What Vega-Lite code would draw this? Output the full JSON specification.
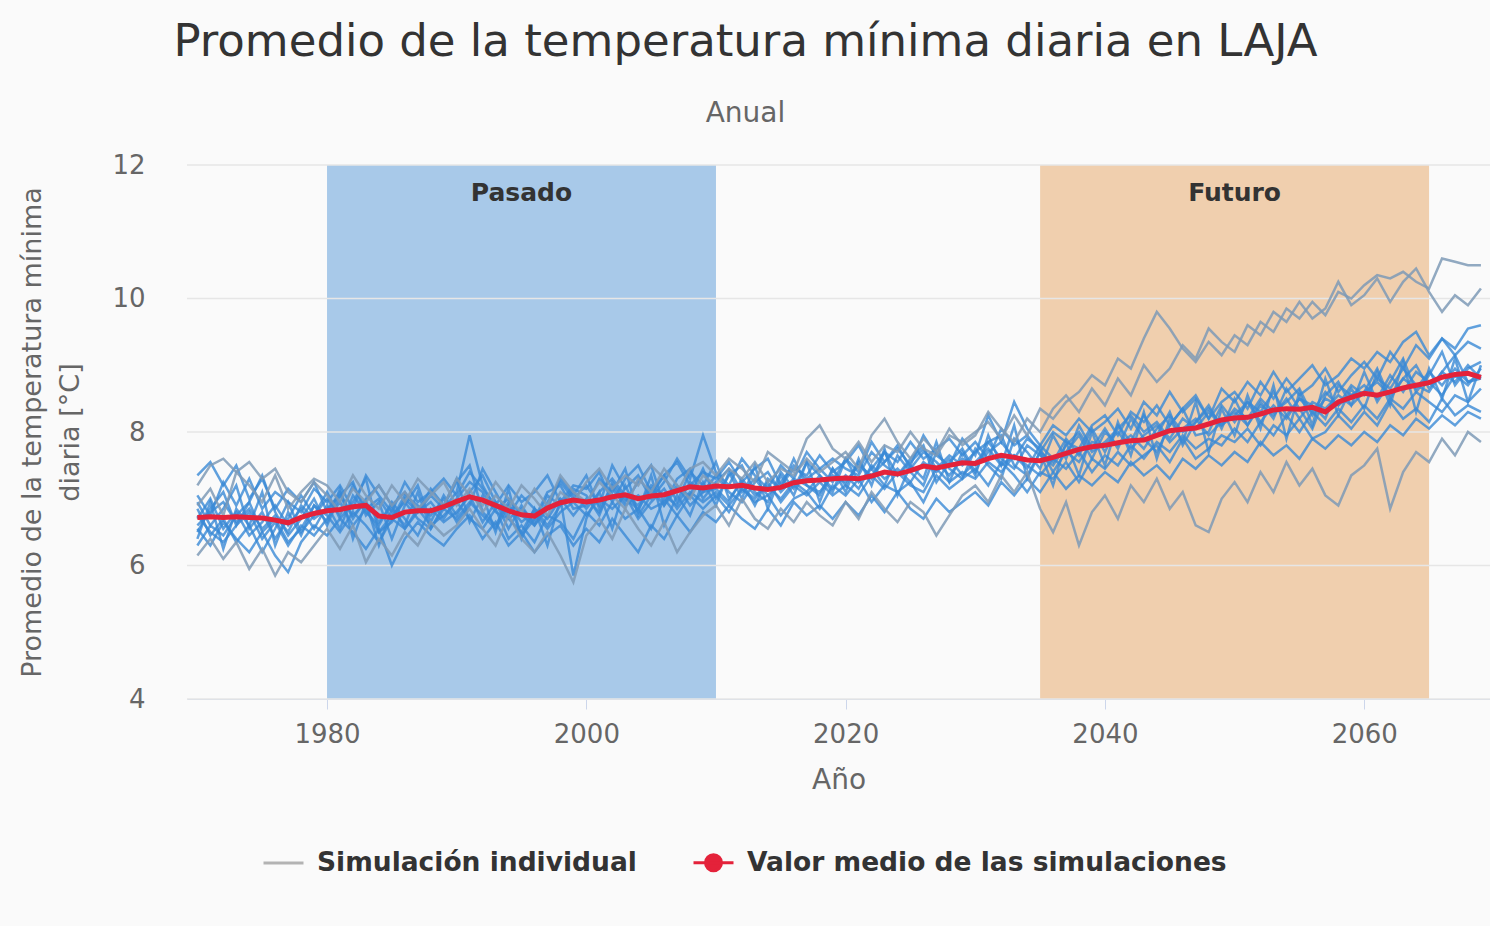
{
  "$schema": "https://vega.github.io/schema/vega-lite/v6.json",
  "width": 1303,
  "height": 534,
  "autosize": {"type": "none"},
  "padding": {"left": 187, "top": 165, "right": 0, "bottom": 227},
  "background": "#fafafa",
  "config": {"view": {"stroke": null}, "font": "DejaVu Sans"},
  "title": {
    "text": "Promedio de la temperatura mínima diaria en LAJA",
    "subtitle": "Anual",
    "font": "DejaVu Sans",
    "subtitleFont": "DejaVu Sans",
    "fontSize": 45,
    "fontWeight": "normal",
    "color": "#333333",
    "subtitleFontSize": 28,
    "subtitleColor": "#666666",
    "anchor": "middle",
    "dx": -93,
    "offset": 24,
    "subtitlePadding": 35
  },
  "datasets": {
    "bands": [
      {"start": 1980, "end": 2010, "mid": 1995, "label": "Pasado"},
      {"start": 2035, "end": 2065, "mid": 2050, "label": "Futuro"}
    ],
    "grid": [{"v": 4}, {"v": 6}, {"v": 8}, {"v": 10}, {"v": 12}],
    "sims": [
      {"t":1970,"avg":6.72,"a":6.95,"b":6.50,"c":6.30,"d":7.05,"e":6.70,"f":6.40,"g":6.85,"h":7.35,"i":6.55,"j":7.20,"k":6.15,"l":6.90,"m":6.60,"n":6.75},
      {"t":1971,"avg":6.73,"a":6.60,"b":6.85,"c":6.60,"d":6.75,"e":7.00,"f":6.95,"g":6.45,"h":7.55,"i":6.30,"j":7.50,"k":6.40,"l":7.15,"m":6.80,"n":6.50},
      {"t":1972,"avg":6.72,"a":6.85,"b":7.10,"c":6.45,"d":7.25,"e":6.55,"f":6.25,"g":6.70,"h":7.20,"i":6.65,"j":7.60,"k":6.10,"l":6.75,"m":6.95,"n":6.35},
      {"t":1973,"avg":6.73,"a":7.20,"b":6.60,"c":6.75,"d":6.90,"e":6.80,"f":6.85,"g":6.35,"h":7.50,"i":6.40,"j":7.40,"k":6.35,"l":7.40,"m":6.65,"n":6.60},
      {"t":1974,"avg":6.72,"a":6.55,"b":6.95,"c":6.95,"d":7.30,"e":6.45,"f":6.60,"g":6.60,"h":7.00,"i":6.20,"j":7.55,"k":5.95,"l":7.20,"m":6.85,"n":6.80},
      {"t":1975,"avg":6.71,"a":6.80,"b":7.35,"c":6.50,"d":6.85,"e":6.65,"f":7.10,"g":6.20,"h":7.30,"i":6.50,"j":7.30,"k":6.25,"l":6.95,"m":6.55,"n":6.40},
      {"t":1976,"avg":6.68,"a":6.40,"b":6.80,"c":6.70,"d":7.10,"e":6.90,"f":6.30,"g":6.55,"h":6.85,"i":6.15,"j":7.45,"k":5.85,"l":7.35,"m":6.75,"n":6.65},
      {"t":1977,"avg":6.64,"a":6.70,"b":6.45,"c":6.35,"d":6.95,"e":6.60,"f":6.80,"g":6.95,"h":7.15,"i":5.90,"j":7.10,"k":6.20,"l":6.85,"m":6.50,"n":6.30},
      {"t":1978,"avg":6.72,"a":7.05,"b":6.70,"c":6.55,"d":6.80,"e":6.85,"f":6.45,"g":6.50,"h":6.95,"i":6.35,"j":6.95,"k":6.05,"l":7.10,"m":6.90,"n":6.60},
      {"t":1979,"avg":6.78,"a":6.75,"b":7.00,"c":6.90,"d":7.15,"e":6.55,"f":6.90,"g":6.75,"h":7.25,"i":6.60,"j":7.25,"k":6.30,"l":7.30,"m":6.70,"n":6.45},
      {"t":1980,"avg":6.82,"a":7.10,"b":6.60,"c":6.75,"d":6.95,"e":6.90,"f":6.65,"g":7.00,"h":6.80,"i":6.45,"j":7.05,"k":6.55,"l":7.20,"m":6.85,"n":6.70},
      {"t":1981,"avg":6.84,"a":6.70,"b":7.05,"c":6.50,"d":7.20,"e":6.55,"f":7.15,"g":6.75,"h":7.10,"i":6.70,"j":6.80,"k":6.25,"l":6.95,"m":7.05,"n":6.95},
      {"t":1982,"avg":6.88,"a":6.95,"b":7.25,"c":6.80,"d":6.85,"e":7.05,"f":6.40,"g":7.20,"h":6.70,"i":6.50,"j":7.15,"k":6.60,"l":7.35,"m":6.75,"n":6.60},
      {"t":1983,"avg":6.90,"a":7.30,"b":6.75,"c":6.60,"d":7.35,"e":6.80,"f":6.95,"g":6.85,"h":7.00,"i":6.25,"j":6.95,"k":6.05,"l":7.05,"m":6.95,"n":6.85},
      {"t":1984,"avg":6.74,"a":6.50,"b":6.95,"c":6.35,"d":7.05,"e":6.60,"f":6.30,"g":7.00,"h":7.20,"i":6.55,"j":7.20,"k":6.40,"l":6.85,"m":6.65,"n":6.50},
      {"t":1985,"avg":6.72,"a":6.65,"b":6.40,"c":6.70,"d":6.80,"e":6.95,"f":6.85,"g":6.70,"h":6.90,"i":6.00,"j":6.90,"k":6.15,"l":7.20,"m":6.90,"n":6.75},
      {"t":1986,"avg":6.80,"a":7.00,"b":6.90,"c":6.55,"d":7.25,"e":6.70,"f":6.60,"g":7.05,"h":6.55,"i":6.40,"j":7.10,"k":6.50,"l":6.95,"m":7.10,"n":6.95},
      {"t":1987,"avg":6.82,"a":6.80,"b":7.20,"c":6.85,"d":6.95,"e":6.45,"f":7.10,"g":6.90,"h":6.80,"i":6.65,"j":6.85,"k":6.30,"l":7.30,"m":6.80,"n":6.70},
      {"t":1988,"avg":6.82,"a":7.15,"b":6.65,"c":6.60,"d":7.10,"e":6.85,"f":6.55,"g":6.75,"h":7.05,"i":6.45,"j":7.05,"k":6.65,"l":7.10,"m":6.95,"n":6.55},
      {"t":1989,"avg":6.88,"a":6.90,"b":7.05,"c":6.75,"d":7.30,"e":6.65,"f":6.90,"g":7.00,"h":6.85,"i":6.30,"j":7.25,"k":6.45,"l":6.90,"m":6.70,"n":6.85},
      {"t":1990,"avg":6.96,"a":7.25,"b":6.75,"c":6.95,"d":7.05,"e":6.80,"f":7.30,"g":6.65,"h":7.10,"i":6.55,"j":6.90,"k":6.60,"l":7.30,"m":7.00,"n":6.70},
      {"t":1991,"avg":7.03,"a":7.50,"b":7.10,"c":6.70,"d":7.40,"e":7.05,"f":6.65,"g":6.90,"h":7.95,"i":6.75,"j":7.15,"k":6.85,"l":7.05,"m":7.25,"n":6.95},
      {"t":1992,"avg":6.98,"a":6.80,"b":7.35,"c":6.55,"d":7.15,"e":6.65,"f":7.05,"g":7.45,"h":7.20,"i":6.40,"j":6.80,"k":6.55,"l":6.90,"m":7.10,"n":6.75},
      {"t":1993,"avg":6.90,"a":6.60,"b":6.95,"c":6.85,"d":6.90,"e":6.95,"f":6.50,"g":7.10,"h":6.85,"i":6.65,"j":7.05,"k":6.30,"l":7.25,"m":6.80,"n":6.55},
      {"t":1994,"avg":6.82,"a":6.95,"b":6.55,"c":6.40,"d":7.20,"e":6.70,"f":7.15,"g":6.75,"h":7.00,"i":6.30,"j":6.85,"k":6.75,"l":7.00,"m":6.70,"n":6.90},
      {"t":1995,"avg":6.76,"a":6.45,"b":6.90,"c":6.60,"d":6.95,"e":6.50,"f":6.40,"g":7.05,"h":6.75,"i":6.50,"j":7.20,"k":6.40,"l":6.80,"m":6.85,"n":6.65},
      {"t":1996,"avg":6.74,"a":6.70,"b":6.60,"c":6.35,"d":7.10,"e":6.85,"f":6.85,"g":6.85,"h":6.60,"i":6.20,"j":7.00,"k":6.20,"l":7.15,"m":6.65,"n":6.80},
      {"t":1997,"avg":6.86,"a":7.10,"b":6.85,"c":6.75,"d":7.35,"e":6.70,"f":6.30,"g":6.60,"h":6.95,"i":6.45,"j":6.75,"k":6.50,"l":6.90,"m":7.05,"n":6.55},
      {"t":1998,"avg":6.94,"a":7.20,"b":7.30,"c":6.65,"d":6.95,"e":7.00,"f":7.00,"g":6.90,"h":7.25,"i":6.60,"j":7.10,"k":6.15,"l":7.35,"m":6.90,"n":6.80},
      {"t":1999,"avg":6.98,"a":6.85,"b":7.05,"c":6.40,"d":7.20,"e":6.75,"f":5.85,"g":7.15,"h":7.00,"i":6.30,"j":6.95,"k":5.75,"l":7.10,"m":7.10,"n":6.95},
      {"t":2000,"avg":6.95,"a":6.90,"b":7.35,"c":6.80,"d":7.15,"e":7.00,"f":6.70,"g":7.05,"h":7.20,"i":6.55,"j":7.25,"k":6.45,"l":6.95,"m":6.85,"n":6.75},
      {"t":2001,"avg":6.98,"a":7.30,"b":6.85,"c":6.60,"d":7.40,"e":6.80,"f":7.10,"g":6.75,"h":6.90,"i":6.35,"j":7.45,"k":6.70,"l":7.25,"m":7.10,"n":7.00},
      {"t":2002,"avg":7.03,"a":7.10,"b":7.20,"c":6.95,"d":6.95,"e":7.15,"f":6.55,"g":7.25,"h":7.50,"i":6.70,"j":7.15,"k":6.40,"l":7.05,"m":7.30,"n":6.85},
      {"t":2003,"avg":7.06,"a":7.45,"b":6.95,"c":6.70,"d":7.30,"e":6.90,"f":7.20,"g":7.00,"h":7.15,"i":6.45,"j":7.35,"k":6.85,"l":6.85,"m":7.05,"n":7.05},
      {"t":2004,"avg":7.00,"a":6.75,"b":7.25,"c":6.85,"d":7.50,"e":7.05,"f":6.80,"g":6.85,"h":7.35,"i":6.20,"j":7.20,"k":6.55,"l":7.30,"m":6.90,"n":6.70},
      {"t":2005,"avg":7.04,"a":7.05,"b":7.50,"c":6.55,"d":7.10,"e":6.85,"f":7.35,"g":7.15,"h":7.00,"i":6.60,"j":7.50,"k":6.30,"l":7.10,"m":7.20,"n":6.95},
      {"t":2006,"avg":7.06,"a":7.35,"b":6.90,"c":7.00,"d":7.35,"e":6.95,"f":6.60,"g":6.90,"h":7.25,"i":6.40,"j":7.30,"k":6.65,"l":7.45,"m":7.05,"n":7.15},
      {"t":2007,"avg":7.12,"a":6.95,"b":7.15,"c":6.75,"d":7.55,"e":7.20,"f":7.05,"g":7.30,"h":7.60,"i":6.75,"j":7.10,"k":6.20,"l":7.20,"m":6.90,"n":6.85},
      {"t":2008,"avg":7.18,"a":7.40,"b":7.05,"c":7.05,"d":7.20,"e":6.90,"f":6.75,"g":7.45,"h":7.30,"i":6.50,"j":7.45,"k":6.50,"l":7.00,"m":7.25,"n":7.10},
      {"t":2009,"avg":7.16,"a":7.20,"b":7.45,"c":6.85,"d":7.40,"e":7.10,"f":7.25,"g":7.00,"h":7.95,"i":6.80,"j":7.55,"k":6.75,"l":7.35,"m":7.10,"n":6.95},
      {"t":2010,"avg":7.19,"a":7.55,"b":7.00,"c":7.05,"d":7.30,"e":7.15,"f":6.90,"g":7.25,"h":7.40,"i":6.65,"j":7.35,"k":6.90,"l":7.20,"m":7.35,"n":7.10},
      {"t":2011,"avg":7.18,"a":7.00,"b":7.35,"c":6.80,"d":7.55,"e":6.95,"f":7.40,"g":7.45,"h":7.20,"i":6.90,"j":7.60,"k":6.60,"l":7.45,"m":7.10,"n":6.90},
      {"t":2012,"avg":7.20,"a":7.25,"b":7.50,"c":7.15,"d":7.25,"e":7.30,"f":7.00,"g":7.10,"h":7.60,"i":6.70,"j":7.45,"k":7.00,"l":7.30,"m":6.95,"n":7.15},
      {"t":2013,"avg":7.16,"a":6.90,"b":7.10,"c":6.95,"d":7.45,"e":7.05,"f":7.50,"g":7.30,"h":7.35,"i":6.55,"j":7.25,"k":6.70,"l":7.55,"m":7.25,"n":7.00},
      {"t":2014,"avg":7.14,"a":7.30,"b":6.95,"c":7.05,"d":7.60,"e":7.20,"f":6.85,"g":7.05,"h":7.15,"i":6.85,"j":7.70,"k":6.55,"l":7.25,"m":7.40,"n":7.25},
      {"t":2015,"avg":7.17,"a":7.15,"b":7.40,"c":6.75,"d":7.20,"e":7.00,"f":7.35,"g":7.25,"h":7.50,"i":6.60,"j":7.55,"k":6.85,"l":7.45,"m":7.10,"n":6.95},
      {"t":2016,"avg":7.24,"a":7.60,"b":7.15,"c":7.00,"d":7.45,"e":7.25,"f":7.05,"g":7.50,"h":7.30,"i":6.95,"j":7.40,"k":6.65,"l":7.35,"m":7.30,"n":7.20},
      {"t":2017,"avg":7.27,"a":7.20,"b":7.55,"c":7.10,"d":7.35,"e":7.10,"f":7.55,"g":7.30,"h":7.70,"i":6.75,"j":7.90,"k":6.95,"l":7.60,"m":7.20,"n":7.05},
      {"t":2018,"avg":7.28,"a":7.05,"b":7.35,"c":6.85,"d":7.65,"e":7.35,"f":6.95,"g":7.45,"h":7.45,"i":6.90,"j":8.10,"k":6.75,"l":7.40,"m":7.10,"n":7.25},
      {"t":2019,"avg":7.30,"a":7.45,"b":7.10,"c":7.20,"d":7.40,"e":7.15,"f":7.45,"g":7.60,"h":7.25,"i":6.70,"j":7.75,"k":6.60,"l":7.55,"m":7.35,"n":7.05},
      {"t":2020,"avg":7.31,"a":7.20,"b":7.60,"c":7.05,"d":7.55,"e":7.35,"f":7.10,"g":7.45,"h":7.60,"i":6.95,"j":7.60,"k":6.95,"l":7.70,"m":7.25,"n":7.20},
      {"t":2021,"avg":7.30,"a":7.55,"b":7.25,"c":7.30,"d":7.80,"e":7.15,"f":7.60,"g":7.35,"h":7.40,"i":6.75,"j":7.85,"k":6.70,"l":7.45,"m":7.50,"n":7.05},
      {"t":2022,"avg":7.34,"a":7.30,"b":7.45,"c":6.95,"d":7.45,"e":7.50,"f":7.20,"g":7.70,"h":7.85,"i":7.05,"j":7.55,"k":7.10,"l":7.95,"m":7.35,"n":7.35},
      {"t":2023,"avg":7.40,"a":7.70,"b":7.20,"c":7.20,"d":7.70,"e":7.30,"f":7.75,"g":7.50,"h":7.55,"i":6.80,"j":7.80,"k":6.85,"l":8.20,"m":7.55,"n":7.15},
      {"t":2024,"avg":7.37,"a":7.35,"b":7.65,"c":7.10,"d":7.55,"e":7.45,"f":7.05,"g":7.35,"h":7.75,"i":7.10,"j":7.70,"k":6.65,"l":7.85,"m":7.80,"n":7.40},
      {"t":2025,"avg":7.42,"a":7.60,"b":7.40,"c":7.25,"d":7.85,"e":7.25,"f":7.50,"g":7.55,"h":7.50,"i":6.85,"j":8.00,"k":6.95,"l":7.60,"m":7.45,"n":7.20},
      {"t":2026,"avg":7.49,"a":7.80,"b":7.20,"c":6.95,"d":7.60,"e":7.55,"f":7.30,"g":7.75,"h":7.95,"i":6.70,"j":7.75,"k":6.80,"l":7.90,"m":7.70,"n":7.10},
      {"t":2027,"avg":7.46,"a":7.25,"b":7.70,"c":7.35,"d":7.75,"e":7.40,"f":7.85,"g":7.45,"h":7.65,"i":7.00,"j":7.65,"k":6.45,"l":7.70,"m":7.55,"n":7.45},
      {"t":2028,"avg":7.50,"a":7.55,"b":7.45,"c":7.15,"d":7.90,"e":7.60,"f":7.25,"g":7.65,"h":7.50,"i":6.80,"j":7.95,"k":6.75,"l":8.05,"m":7.35,"n":7.25},
      {"t":2029,"avg":7.54,"a":7.75,"b":7.30,"c":7.30,"d":7.65,"e":7.35,"f":7.70,"g":7.50,"h":7.90,"i":6.95,"j":7.85,"k":7.05,"l":7.80,"m":7.60,"n":7.40},
      {"t":2030,"avg":7.53,"a":7.40,"b":7.75,"c":7.45,"d":7.85,"e":7.55,"f":7.35,"g":7.70,"h":7.65,"i":7.10,"j":8.00,"k":7.20,"l":7.95,"m":7.50,"n":7.30},
      {"t":2031,"avg":7.60,"a":7.85,"b":7.50,"c":7.20,"d":7.60,"e":7.75,"f":7.95,"g":7.85,"h":8.25,"i":6.90,"j":8.15,"k":6.95,"l":8.30,"m":7.70,"n":7.55},
      {"t":2032,"avg":7.65,"a":7.95,"b":7.30,"c":7.55,"d":8.05,"e":7.50,"f":7.50,"g":7.60,"h":7.85,"i":7.25,"j":7.90,"k":7.35,"l":8.05,"m":7.85,"n":7.40},
      {"t":2033,"avg":7.62,"a":7.50,"b":7.90,"c":7.35,"d":7.80,"e":7.65,"f":8.10,"g":7.45,"h":8.45,"i":7.05,"j":8.25,"k":7.10,"l":7.85,"m":7.60,"n":7.65},
      {"t":2034,"avg":7.58,"a":7.35,"b":7.70,"c":7.10,"d":7.95,"e":7.45,"f":7.30,"g":7.80,"h":8.05,"i":7.30,"j":7.95,"k":7.40,"l":8.20,"m":7.90,"n":7.50},
      {"t":2035,"avg":7.57,"a":7.70,"b":7.45,"c":7.40,"d":7.70,"e":7.80,"f":7.70,"g":7.65,"h":7.80,"i":7.10,"j":8.35,"k":6.85,"l":8.00,"m":7.75,"n":7.35},
      {"t":2036,"avg":7.62,"a":7.55,"b":7.95,"c":7.30,"d":8.00,"e":7.60,"f":7.20,"g":7.50,"h":8.10,"i":7.40,"j":8.20,"k":6.50,"l":8.35,"m":7.40,"n":7.60},
      {"t":2037,"avg":7.68,"a":7.90,"b":7.60,"c":7.55,"d":7.85,"e":7.70,"f":7.85,"g":7.80,"h":7.95,"i":7.15,"j":8.45,"k":6.95,"l":8.55,"m":7.70,"n":7.45},
      {"t":2038,"avg":7.74,"a":7.65,"b":8.10,"c":7.25,"d":7.75,"e":7.55,"f":7.35,"g":8.00,"h":8.20,"i":7.35,"j":8.60,"k":6.30,"l":8.30,"m":7.95,"n":7.70},
      {"t":2039,"avg":7.78,"a":8.05,"b":7.75,"c":7.60,"d":8.10,"e":7.85,"f":8.00,"g":7.70,"h":8.00,"i":7.20,"j":8.85,"k":6.80,"l":8.65,"m":7.60,"n":7.40},
      {"t":2040,"avg":7.80,"a":7.70,"b":8.05,"c":7.45,"d":8.25,"e":7.80,"f":7.50,"g":7.85,"h":8.15,"i":7.40,"j":8.70,"k":7.05,"l":8.40,"m":8.00,"n":7.65},
      {"t":2041,"avg":7.84,"a":8.10,"b":7.75,"c":7.70,"d":7.95,"e":8.00,"f":8.15,"g":8.05,"h":8.35,"i":7.25,"j":9.10,"k":6.70,"l":8.80,"m":7.80,"n":7.50},
      {"t":2042,"avg":7.87,"a":7.85,"b":8.20,"c":7.50,"d":8.30,"e":7.75,"f":7.65,"g":8.25,"h":8.05,"i":7.55,"j":8.95,"k":7.20,"l":8.55,"m":7.95,"n":7.80},
      {"t":2043,"avg":7.88,"a":8.25,"b":7.90,"c":7.65,"d":8.15,"e":7.95,"f":8.30,"g":8.00,"h":8.45,"i":7.35,"j":9.40,"k":6.95,"l":9.00,"m":7.75,"n":7.60},
      {"t":2044,"avg":7.95,"a":7.95,"b":7.70,"c":7.80,"d":8.40,"e":8.10,"f":7.60,"g":8.15,"h":8.25,"i":7.50,"j":9.80,"k":7.30,"l":8.75,"m":8.05,"n":7.85},
      {"t":2045,"avg":8.02,"a":8.30,"b":8.10,"c":7.55,"d":8.10,"e":7.85,"f":8.20,"g":7.90,"h":8.60,"i":7.30,"j":9.55,"k":6.85,"l":8.95,"m":8.25,"n":7.70},
      {"t":2046,"avg":8.04,"a":7.80,"b":8.35,"c":7.90,"d":8.35,"e":8.05,"f":7.85,"g":8.20,"h":8.30,"i":7.60,"j":9.25,"k":7.10,"l":9.30,"m":8.00,"n":7.95},
      {"t":2047,"avg":8.06,"a":8.15,"b":7.95,"c":7.60,"d":8.55,"e":8.20,"f":8.45,"g":8.05,"h":8.50,"i":7.45,"j":9.05,"k":6.60,"l":9.10,"m":8.15,"n":7.75},
      {"t":2048,"avg":8.12,"a":8.40,"b":8.00,"c":7.75,"d":8.20,"e":7.95,"f":7.70,"g":8.30,"h":8.20,"i":7.65,"j":9.35,"k":6.50,"l":9.55,"m":8.35,"n":7.90},
      {"t":2049,"avg":8.18,"a":8.05,"b":8.40,"c":7.95,"d":8.45,"e":8.15,"f":8.35,"g":8.10,"h":8.65,"i":7.50,"j":9.15,"k":7.00,"l":9.35,"m":8.10,"n":7.80},
      {"t":2050,"avg":8.21,"a":8.50,"b":8.15,"c":7.85,"d":8.60,"e":8.30,"f":7.95,"g":8.35,"h":8.45,"i":7.70,"j":9.45,"k":7.25,"l":9.20,"m":8.25,"n":8.05},
      {"t":2051,"avg":8.22,"a":8.10,"b":8.45,"c":8.05,"d":8.35,"e":8.10,"f":8.55,"g":8.20,"h":8.75,"i":7.55,"j":9.30,"k":6.95,"l":9.60,"m":8.45,"n":7.85},
      {"t":2052,"avg":8.27,"a":8.45,"b":8.30,"c":7.80,"d":8.75,"e":8.40,"f":8.05,"g":8.50,"h":8.55,"i":7.85,"j":9.65,"k":7.40,"l":9.45,"m":8.15,"n":8.15},
      {"t":2053,"avg":8.33,"a":8.20,"b":8.60,"c":8.10,"d":8.50,"e":8.25,"f":8.70,"g":8.30,"h":8.90,"i":7.65,"j":9.50,"k":7.10,"l":9.80,"m":8.40,"n":7.95},
      {"t":2054,"avg":8.35,"a":8.65,"b":8.25,"c":7.95,"d":8.80,"e":8.50,"f":7.90,"g":8.45,"h":8.60,"i":7.80,"j":9.85,"k":7.55,"l":9.65,"m":8.20,"n":8.25},
      {"t":2055,"avg":8.34,"a":8.35,"b":8.50,"c":8.20,"d":8.55,"e":8.20,"f":8.60,"g":8.65,"h":8.80,"i":7.60,"j":9.70,"k":7.20,"l":9.95,"m":8.50,"n":8.00},
      {"t":2056,"avg":8.37,"a":8.05,"b":8.40,"c":7.90,"d":8.70,"e":8.45,"f":8.10,"g":8.25,"h":9.00,"i":7.90,"j":9.95,"k":7.45,"l":9.70,"m":8.30,"n":8.30},
      {"t":2057,"avg":8.30,"a":8.55,"b":8.20,"c":8.00,"d":8.95,"e":8.35,"f":8.80,"g":8.50,"h":8.70,"i":7.75,"j":9.75,"k":7.05,"l":9.85,"m":8.60,"n":8.10},
      {"t":2058,"avg":8.45,"a":8.75,"b":8.70,"c":8.25,"d":8.60,"e":8.55,"f":8.25,"g":8.40,"h":8.85,"i":7.95,"j":10.10,"k":6.90,"l":10.25,"m":8.40,"n":8.35},
      {"t":2059,"avg":8.52,"a":8.40,"b":8.55,"c":8.05,"d":8.85,"e":8.40,"f":8.65,"g":8.70,"h":9.10,"i":7.80,"j":10.00,"k":7.35,"l":9.90,"m":8.55,"n":8.15},
      {"t":2060,"avg":8.58,"a":8.90,"b":8.60,"c":8.30,"d":9.05,"e":8.60,"f":8.35,"g":8.55,"h":8.95,"i":8.00,"j":10.20,"k":7.50,"l":10.05,"m":8.70,"n":8.40},
      {"t":2061,"avg":8.55,"a":8.45,"b":8.95,"c":8.10,"d":8.80,"e":8.75,"f":8.90,"g":8.80,"h":9.20,"i":7.85,"j":10.35,"k":7.75,"l":10.30,"m":8.50,"n":8.20},
      {"t":2062,"avg":8.60,"a":8.75,"b":8.50,"c":8.45,"d":9.20,"e":8.55,"f":8.40,"g":8.65,"h":9.05,"i":8.10,"j":10.30,"k":6.85,"l":9.95,"m":8.85,"n":8.50},
      {"t":2063,"avg":8.66,"a":9.10,"b":8.80,"c":8.20,"d":8.95,"e":8.80,"f":9.05,"g":8.95,"h":9.35,"i":7.95,"j":10.40,"k":7.40,"l":10.25,"m":8.60,"n":8.35},
      {"t":2064,"avg":8.70,"a":8.60,"b":9.00,"c":8.35,"d":9.30,"e":8.65,"f":8.30,"g":8.70,"h":9.50,"i":8.20,"j":10.25,"k":7.70,"l":10.45,"m":8.90,"n":8.60},
      {"t":2065,"avg":8.74,"a":8.85,"b":8.65,"c":8.15,"d":9.10,"e":8.90,"f":8.95,"g":8.60,"h":9.15,"i":8.05,"j":10.15,"k":7.55,"l":10.10,"m":8.75,"n":8.45},
      {"t":2066,"avg":8.82,"a":9.20,"b":8.90,"c":8.50,"d":9.40,"e":8.70,"f":8.50,"g":8.90,"h":9.40,"i":8.25,"j":10.60,"k":7.90,"l":9.80,"m":8.55,"n":8.30},
      {"t":2067,"avg":8.86,"a":8.70,"b":9.15,"c":8.25,"d":9.15,"e":8.95,"f":9.10,"g":8.75,"h":9.25,"i":8.10,"j":10.55,"k":7.65,"l":10.05,"m":8.85,"n":8.55},
      {"t":2068,"avg":8.88,"a":8.95,"b":8.75,"c":8.40,"d":9.35,"e":8.75,"f":8.45,"g":9.00,"h":9.55,"i":8.30,"j":10.50,"k":8.00,"l":9.90,"m":8.70,"n":8.45},
      {"t":2069,"avg":8.82,"a":9.05,"b":8.80,"c":8.30,"d":9.25,"e":8.85,"f":9.00,"g":8.80,"h":9.60,"i":8.20,"j":10.50,"k":7.85,"l":10.15,"m":8.95,"n":8.65}
    ]
  },
  "layer": [
    {
      "data": {"name": "bands"},
      "mark": {"type": "rect", "opacity": 1},
      "encoding": {
        "x": {"field": "start", "type": "quantitative", "scale": {"domain": [1969.2, 2069.7], "nice": false, "zero": false},
          "axis": {"title": "Año", "values": [1980, 2000, 2020, 2040, 2060], "format": "d", "grid": false, "domainColor": "#ccd6eb", "tickColor": "#ccd6eb", "tickSize": 10, "labelFontSize": 26, "labelColor": "#666666", "labelFont": "DejaVu Sans", "labelPadding": 12, "titleFontSize": 28, "titleColor": "#666666", "titleFont": "DejaVu Sans", "titleFontWeight": "normal", "titlePadding": 19}},
        "x2": {"field": "end"},
        "fill": {"field": "label", "type": "nominal", "scale": {"domain": ["Pasado", "Futuro"], "range": ["#a8c9e9", "#f0cfae"]}, "legend": null}
      }
    },
    {
      "data": {"name": "grid"},
      "mark": {"type": "rule", "color": "#e6e6e6", "strokeWidth": 1.5},
      "encoding": {
        "y": {"field": "v", "type": "quantitative", "scale": {"domain": [4, 12], "nice": false, "zero": false},
          "axis": {"title": ["Promedio de la temperatura mínima", "diaria [°C]"], "values": [4, 6, 8, 10, 12], "format": "d", "grid": false, "domain": false, "ticks": false, "labelFontSize": 26, "labelColor": "#666666", "labelFont": "DejaVu Sans", "labelPadding": 42, "titleFontSize": 27, "titleColor": "#666666", "titleFont": "DejaVu Sans", "titleFontWeight": "normal", "titlePadding": 27, "titleLineHeight": 38}}
      }
    },
    {
      "data": {"name": "bands"},
      "mark": {"type": "text", "fontSize": 25, "fontWeight": "bold", "color": "#333333", "baseline": "middle", "font": "DejaVu Sans"},
      "encoding": {
        "x": {"field": "mid", "type": "quantitative", "scale": {"domain": [1969.2, 2069.7], "nice": false, "zero": false}},
        "y": {"datum": 11.58, "type": "quantitative", "scale": {"domain": [4, 12], "nice": false, "zero": false}},
        "text": {"field": "label"}
      }
    },
    {
      "data": {"name": "sims"},
      "transform": [{"fold": ["a", "b", "c", "d", "e", "f", "g", "h", "i", "m", "n"], "as": ["sim", "v"]}],
      "mark": {"type": "line", "strokeWidth": 2.5, "color": "#3a8ad6", "strokeOpacity": 0.8, "clip": true},
      "encoding": {
        "x": {"field": "t", "type": "quantitative", "scale": {"domain": [1969.2, 2069.7], "nice": false, "zero": false}},
        "y": {"field": "v", "type": "quantitative", "scale": {"domain": [4, 12], "nice": false, "zero": false}},
        "detail": {"field": "sim", "type": "nominal"}
      }
    },
    {
      "data": {"name": "sims"},
      "transform": [{"fold": ["j", "k", "l"], "as": ["sim", "v"]}],
      "mark": {"type": "line", "strokeWidth": 2.5, "color": "#7e9ab6", "strokeOpacity": 0.85, "clip": true},
      "encoding": {
        "x": {"field": "t", "type": "quantitative", "scale": {"domain": [1969.2, 2069.7], "nice": false, "zero": false}},
        "y": {"field": "v", "type": "quantitative", "scale": {"domain": [4, 12], "nice": false, "zero": false}},
        "detail": {"field": "sim", "type": "nominal"}
      }
    },
    {
      "data": {"name": "sims"},
      "mark": {"type": "line", "strokeWidth": 5, "clip": true},
      "encoding": {
        "x": {"field": "t", "type": "quantitative", "scale": {"domain": [1969.2, 2069.7], "nice": false, "zero": false}},
        "y": {"field": "avg", "type": "quantitative", "scale": {"domain": [4, 12], "nice": false, "zero": false}},
        "color": {"datum": "Valor medio de las simulaciones", "type": "nominal",
          "scale": {"domain": ["Simulación individual", "Valor medio de las simulaciones"], "range": ["#b3b3b3", "#e4223a"]},
          "legend": {"title": null, "orient": "none", "legendX": 75, "legendY": 676, "direction": "horizontal",
            "labelFontSize": 26.5, "labelFontWeight": "bold", "labelColor": "#333333", "labelFont": "DejaVu Sans", "labelLimit": 900,
            "symbolSize": 1600, "symbolStrokeWidth": 3, "symbolType": "stroke", "columnPadding": 50, "labelOffset": 12,
            "encode": {"symbols": {"update": {
              "shape": {"signal": "datum.value === 'Simulación individual' ? 'stroke' : 'M-1,0H1M0.4,0A0.4,0.4,0,1,1,-0.4,0A0.4,0.4,0,1,1,0.4,0Z'"},
              "fill": {"signal": "datum.value === 'Simulación individual' ? 'transparent' : '#e4223a'"},
              "strokeOpacity": {"value": 1},
              "fillOpacity": {"value": 1},
              "opacity": {"value": 1}
            }}}}
        }
      }
    }
  ]
}
